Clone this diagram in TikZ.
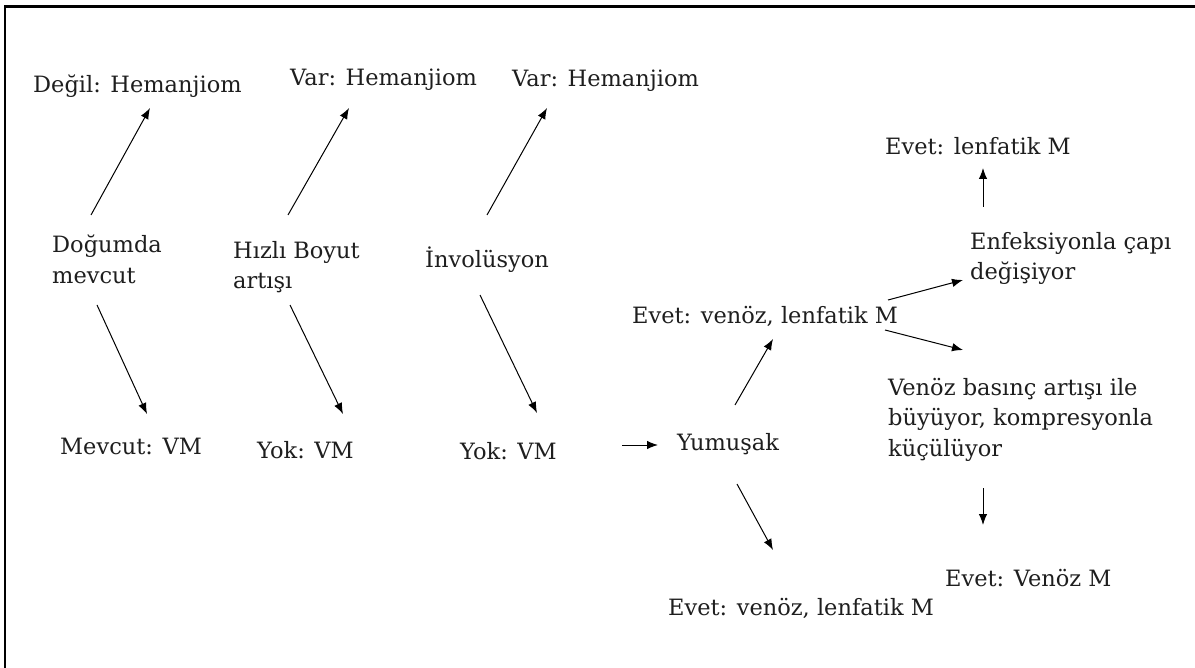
\documentclass[tikz,border=0pt]{standalone}
\usepackage{fontspec}
\setmainfont{DejaVu Serif}
\usetikzlibrary{arrows.meta}
\definecolor{ink}{HTML}{1E1E1E}
\tikzset{
  lbl/.style={inner sep=0pt, anchor=north west, align=left, text=ink,
    font=\fontsize{22.5}{30.5}\selectfont,
    execute at begin node={\rule{0pt}{22pt}}},
  arr/.style={line width=1pt, -{Latex[length=11pt,width=8.5pt]}},
  frame/.style={line width=2.2pt}
}
\begin{document}
\begin{tikzpicture}[x=1pt,y=-1pt]
\useasboundingbox (0,0) rectangle (1195,668);
\draw[frame] (5,668) -- (5,6.5) -- (1195,6.5);
% nodes
\node[lbl] (deg)  at (33,70)   {Değil: Hemanjiom};
\node[lbl] (var1) at (290,63)  {Var: Hemanjiom};
\node[lbl] (var2) at (512,64)  {Var: Hemanjiom};
\node[lbl] (evl)  at (885,132) {Evet: lenfatik M};
\node[lbl] (enf)  at (970,232) {Enfeksiyonla çapı\\değişiyor};
\node[lbl] (dog)  at (52,235)  {Doğumda\\mevcut};
\node[lbl] (hiz)  at (233,241) {Hızlı Boyut\\artışı};
\node[lbl] (inv)  at (425,245) {İnvolüsyon};
\node[lbl] (evm)  at (632,301) {Evet: venöz, lenfatik M};
\node[lbl] (ven)  at (888,378) {Venöz basınç artışı ile\\büyüyor, kompresyonla\\küçülüyor};
\node[lbl] (yum)  at (677,428) {Yumuşak};
\node[lbl] (mev)  at (60,432)  {Mevcut: VM};
\node[lbl] (yok2) at (257,436) {Yok: VM};
\node[lbl] (yok3) at (460,437) {Yok: VM};
\node[lbl] (evv)  at (945,564) {Evet: Venöz M};
\node[lbl] (evb)  at (668,593) {Evet: venöz, lenfatik M};
% connectors
\draw[arr] ([shift={(39,-20)}]dog.north west) -- ([shift={(117,38)}]deg.north west);
\draw[arr] ([shift={(45,70)}]dog.north west) -- ([shift={(87,-18)}]mev.north west);
\draw[arr] ([shift={(55,-26)}]hiz.north west) -- ([shift={(59,45)}]var1.north west);
\draw[arr] ([shift={(57,64)}]hiz.north west) -- ([shift={(86,-22)}]yok2.north west);
\draw[arr] ([shift={(62,-30)}]inv.north west) -- ([shift={(35,44)}]var2.north west);
\draw[arr] ([shift={(55,50)}]inv.north west) -- ([shift={(77,-24)}]yok3.north west);
\draw[arr] ([shift={(162,8)}]yok3.north west) -- ([shift={(-19,17)}]yum.north west);
\draw[arr] ([shift={(58,-23)}]yum.north west) -- ([shift={(141,38)}]evm.north west);
\draw[arr] ([shift={(60,56)}]yum.north west) -- ([shift={(105,-43)}]evb.north west);
\draw[arr] ([shift={(256,-1)}]evm.north west) -- ([shift={(-7,48)}]enf.north west);
\draw[arr] ([shift={(253,29)}]evm.north west) -- ([shift={(75,-28)}]ven.north west);
\draw[arr] ([shift={(13,-25)}]enf.north west) -- ([shift={(98,36)}]evl.north west);
\draw[arr] ([shift={(95,110)}]ven.north west) -- ([shift={(38,-39)}]evv.north west);
\end{tikzpicture}
\end{document}
